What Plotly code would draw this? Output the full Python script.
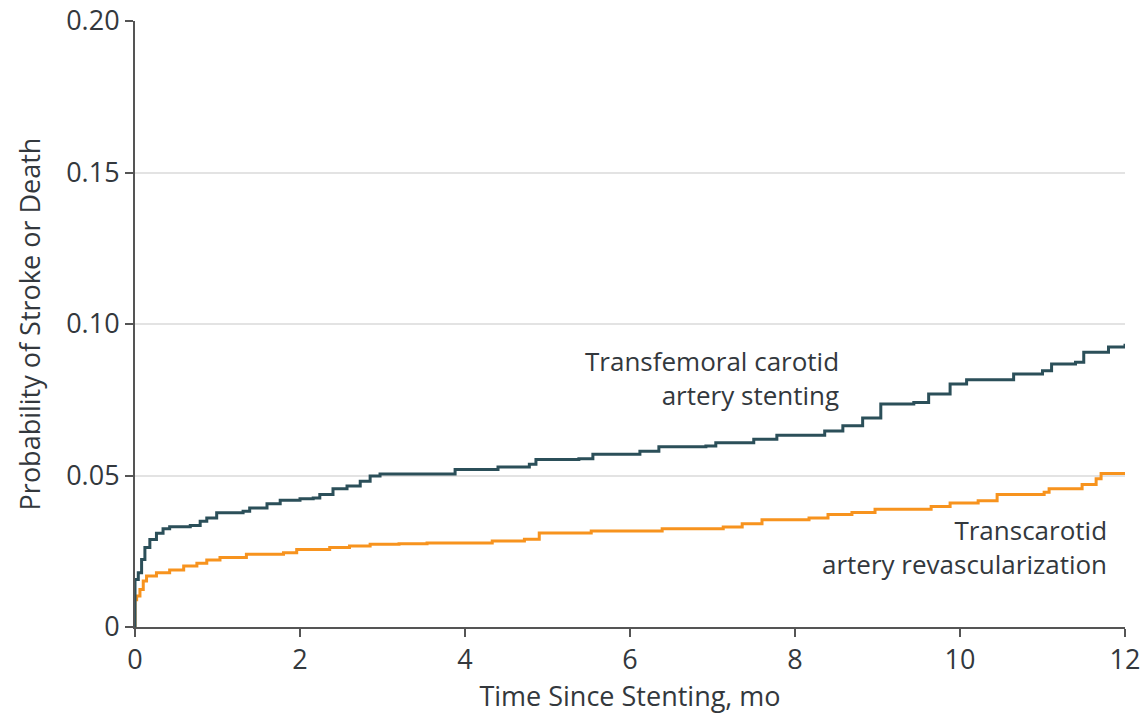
import plotly.graph_objects as go

# Transfemoral carotid artery stenting (teal)
tf_t = [0, 0, 0.0, 0.04, 0.08, 0.12, 0.18, 0.26, 0.34, 0.42, 0.67, 0.79, 0.87, 0.99, 1.31, 1.39, 1.6, 1.76,
        2.0, 2.16, 2.24, 2.4, 2.57, 2.73, 2.85, 2.97, 3.88, 4.4, 4.78, 4.86, 5.38, 5.55, 6.12, 6.35,
        6.92, 7.04, 7.5, 7.78, 8.36, 8.58, 8.82, 9.04, 9.44, 9.62, 9.88, 10.08, 10.65, 11.0, 11.11,
        11.4, 11.5, 11.8, 12.0]
tf_p = [0, 0.012, 0.0157, 0.0179, 0.0223, 0.0262, 0.0289, 0.0309, 0.0324, 0.0331, 0.0335, 0.0349, 0.036,
        0.0377, 0.0382, 0.0393, 0.0407, 0.0418, 0.0423, 0.0426, 0.0437, 0.0456, 0.0465, 0.0481,
        0.0498, 0.0505, 0.052, 0.0528, 0.0537, 0.0553, 0.0555, 0.057, 0.058, 0.0595, 0.0597, 0.0608,
        0.062, 0.0633, 0.0647, 0.0664, 0.069, 0.0736, 0.0741, 0.0769, 0.0802, 0.0816, 0.0835, 0.0846,
        0.0868, 0.0874, 0.0907, 0.0924, 0.0935]

# Transcarotid artery revascularization (orange)
tc_t = [0, 0, 0.02, 0.06, 0.1, 0.14, 0.26, 0.42, 0.59, 0.75, 0.87, 1.03, 1.35, 1.8, 1.96, 2.36, 2.6, 2.85,
        3.2, 3.54, 4.33, 4.72, 4.9, 5.53, 6.39, 7.13, 7.36, 7.6, 8.17, 8.4, 8.69, 8.97, 9.65, 9.88,
        10.22, 10.45, 11.02, 11.08, 11.48, 11.65, 11.71, 12.0]
tc_p = [0, 0.009, 0.0102, 0.0124, 0.0152, 0.0168, 0.0179, 0.0188, 0.0201, 0.021, 0.0221, 0.0229, 0.024,
        0.0245, 0.0256, 0.0262, 0.0267, 0.0273, 0.0275, 0.0277, 0.0284, 0.029, 0.031, 0.0317, 0.0324,
        0.033, 0.0341, 0.0354, 0.036, 0.0371, 0.0378, 0.0389, 0.0398, 0.0409, 0.0417, 0.0437,
        0.0445, 0.0456, 0.047, 0.0489, 0.0507, 0.0507]

y_ticks = [0, 0.05, 0.10, 0.15, 0.20]
y_tick_labels = ["0", "0.05", "0.10", "0.15", "0.20"]
x_ticks = [0, 2, 4, 6, 8, 10, 12]

FONT = "Open Sans, sans-serif"
TXT = "#33383d"

fig = go.Figure()
fig.add_trace(go.Scatter(x=tc_t, y=tc_p, mode="lines", line=dict(color="#f7931e", width=3, shape="hv"),
                         name="Transcarotid artery revascularization"))
fig.add_trace(go.Scatter(x=tf_t, y=tf_p, mode="lines", line=dict(color="#2b4f59", width=3, shape="hv"),
                         name="Transfemoral carotid artery stenting"))

fig.add_annotation(x=8.56, y=0.0822, xref="x", yref="y", xanchor="right", yanchor="middle", align="right",
                   text="Transfemoral carotid<br>artery stenting", showarrow=False,
                   font=dict(family=FONT, size=26, color=TXT))
fig.add_annotation(x=11.8, y=0.0265, xref="x", yref="y", xanchor="right", yanchor="middle", align="right",
                   text="Transcarotid<br>artery revascularization", showarrow=False,
                   font=dict(family=FONT, size=26, color=TXT))

fig.update_layout(
    width=1140, height=723,
    margin=dict(l=135, r=15, t=21, b=96),
    paper_bgcolor="white", plot_bgcolor="white",
    showlegend=False,
    font=dict(family=FONT, size=27, color=TXT),
)
fig.update_xaxes(range=[0, 12], tickvals=x_ticks, ticktext=[str(v) for v in x_ticks], automargin=False,
                 ticklabeloverflow="allow",
                 showgrid=False, zeroline=False, showline=True, linecolor="#555555", linewidth=2,
                 ticks="outside", ticklen=8, tickwidth=2, tickcolor="#555555",
                 title=dict(text="Time Since Stenting, mo", standoff=8, font=dict(size=27)),
                 tickfont=dict(size=27))
fig.update_yaxes(range=[0, 0.2], tickvals=y_ticks, ticktext=y_tick_labels, automargin=False,
                 ticklabeloverflow="allow",
                 showgrid=True, gridcolor="#e3e3e3", gridwidth=2, zeroline=False,
                 showline=True, linecolor="#555555", linewidth=2,
                 ticks="outside", ticklen=8, tickwidth=2, tickcolor="#555555",
                 title=dict(text="Probability of Stroke or Death", standoff=18, font=dict(size=27)),
                 tickfont=dict(size=27))

fig.write_html("out.html")
